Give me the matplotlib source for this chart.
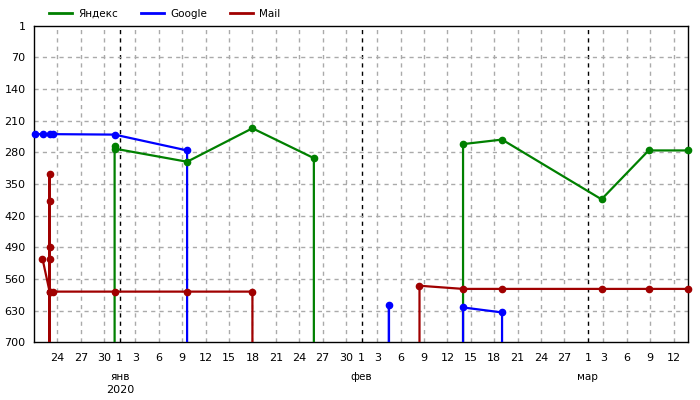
import pandas as pd
import matplotlib
matplotlib.use("Agg")
import matplotlib.pyplot as plt
import matplotlib.transforms as mtransforms

# rank 800 = dropped out of the top 700 (drawn below the axis, clipped)
OFF = 800

yandex_dates = ["2019-12-31 08:00", "2019-12-31 08:00", "2019-12-31 08:00", "2020-01-09 15:00",
                "2020-01-18 00:00", "2020-01-25 21:00", "2020-01-25 21:00", "2020-02-14 00:00",
                "2020-02-14 00:00", "2020-02-19 00:00", "2020-03-02 18:00", "2020-03-08 19:00",
                "2020-03-13 21:00"]
yandex_rank = [OFF, 267, 272, 301, 227, 293, OFF, OFF, 262, 252, 384, 276, 276]

google_dates = ["2019-12-21 03:00", "2019-12-22 03:00", "2019-12-23 00:00", "2019-12-23 10:00",
                "2019-12-31 08:00", "2020-01-09 15:00", "2020-01-09 15:00", "2020-02-04 12:00",
                "2020-02-04 12:00", "2020-02-04 12:00", "2020-02-14 00:00", "2020-02-14 00:00",
                "2020-02-19 00:00", "2020-02-19 00:00"]
google_rank = [240, 240, 240, 240, 241, 276, OFF, OFF, 617, OFF, OFF, 623, 634, OFF]

mail_dates = ["2019-12-22 02:00", "2019-12-23 00:00", "2019-12-23 00:00", "2019-12-23 00:00",
              "2019-12-23 00:00", "2019-12-23 00:00", "2019-12-23 00:00", "2019-12-23 00:00",
              "2019-12-23 10:00", "2019-12-31 08:00", "2020-01-09 15:00", "2020-01-18 00:00",
              "2020-01-18 00:00", "2020-02-08 10:00", "2020-02-08 10:00", "2020-02-14 00:00",
              "2020-02-19 00:00", "2020-03-02 18:00", "2020-03-08 19:00", "2020-03-13 21:00"]
mail_rank = [515, 588, OFF, 329, 387, 490, 515, 588, 588, 588, 588, 588, OFF, OFF, 575, 582,
             582, 582, 582, 582]

y_ticks = [1, 70, 140, 210, 280, 350, 420, 490, 560, 630, 700]
month_names = {1: "янв", 2: "фев", 3: "мар"}

series = [
    ("Яндекс", yandex_dates, yandex_rank, "#008000"),
    ("Google", google_dates, google_rank, "#0000ff"),
    ("Mail", mail_dates, mail_rank, "#a00000"),
]

fig = plt.figure(figsize=(7, 4), dpi=100)
ax = fig.add_axes([34 / 700, 1 - 342.3 / 400, 654.3 / 700, 316.3 / 400])

x_start = pd.Timestamp("2019-12-21 00:00")
x_end = pd.Timestamp("2020-03-13 21:00")

# vertical grid: every 3rd day plus month starts (black)
days = pd.date_range("2019-12-22", "2020-03-13")
tick_days = [d for d in days if d.day == 1 or d.day % 3 == 0]
for d in tick_days:
    if d.day == 1:
        ax.axvline(d, color="black", linewidth=1, linestyle=(0, (3, 3)), zorder=1)
    else:
        ax.axvline(d, color="#aaaaaa", linewidth=1, linestyle=(0, (3, 3)), zorder=1)
for y in y_ticks[1:-1]:
    ax.axhline(y, color="#aaaaaa", linewidth=1, linestyle=(0, (3, 3)), zorder=1)

handles = []
for name, dates, ranks, color in series:
    dt = pd.to_datetime(dates)
    ax.plot(dt, ranks, color=color, linewidth=1.6, zorder=3)
    # markers only for ranks inside the chart, not clipped at the frame
    vis = [(d, r) for d, r in zip(dt, ranks) if r <= 700]
    ax.plot([v[0] for v in vis], [v[1] for v in vis], linestyle="none", marker="o",
            markersize=4.5, color=color, zorder=4, clip_on=False)
    h, = ax.plot([], [], color=color, linewidth=2)
    h.set_label(name)
    handles.append(h)

ax.set_xlim(x_start, x_end)
ax.set_ylim(700, 1)
ax.set_yticks(y_ticks)
ax.set_xticks(tick_days)
ax.set_xticklabels([str(d.day) for d in tick_days])
ax.tick_params(length=0, labelsize=8, pad=8, colors="black")
ax.tick_params(axis="y", pad=6)
for s in ax.spines.values():
    s.set_color("black")
    s.set_linewidth(1)

# month / year labels under the day numbers
trans = mtransforms.blended_transform_factory(ax.transData, fig.transFigure)
for d in tick_days:
    if d.day == 1:
        ax.text(d, 1 - 377 / 400, month_names[d.month], transform=trans,
                ha="center", va="center", fontsize=7.5)
ax.text(pd.Timestamp("2020-01-01"), 1 - 390 / 400, "2020", transform=trans,
        ha="center", va="center", fontsize=8)

fig.legend(handles=handles, loc="center left", bbox_to_anchor=(45 / 700, 1 - 14 / 400),
           ncol=3, frameon=False, fontsize=7.5, handlelength=2.2, columnspacing=2.2,
           handletextpad=0.6, borderaxespad=0)

plt.savefig("out.png", dpi=100)
